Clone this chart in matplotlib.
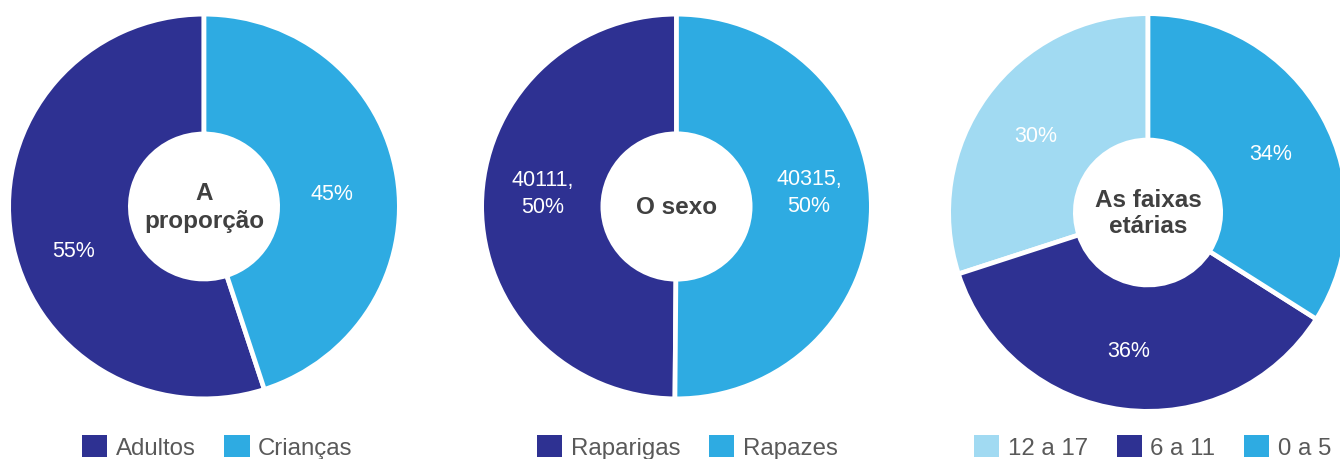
import matplotlib
matplotlib.use('Agg')
import matplotlib.pyplot as plt
from matplotlib.patches import Patch
from matplotlib.transforms import offset_copy

plt.rcParams['font.family'] = ['Liberation Sans', 'DejaVu Sans']

# data
prop_labels = ['Adultos', 'Crianças']
prop_values = [55, 45]

sexo_labels = ['Raparigas', 'Rapazes']
sexo_values = [40111, 40315]

idade_labels = ['12 a 17', '6 a 11', '0 a 5']
idade_values = [30, 36, 34]

titles = ['A\nproporção', 'O sexo', 'As faixas\netárias']

DARK = '#2E3192'
BLUE = '#2EABE2'
LIGHT = '#A1DAF2'

W, H = 1340, 460
fig = plt.figure(figsize=(W / 100, H / 100), dpi=100)

LW_PX = 4.7
LW = LW_PX * 72 / 100


def donut_axes(cx, cy, rx, ry):
    # cx, cy, rx, ry of the visible outer edge in pixels (y from top)
    ex = rx + LW_PX / 2
    ey = ry + LW_PX / 2
    ax = fig.add_axes([(cx - ex) / W, (H - cy - ey) / H, 2 * ex / W, 2 * ey / H])
    return ax, ex


def draw(ax, values, colors, hole_px, outer_px, fmt, title, title_ls, nudges):
    inner = (hole_px - LW_PX / 2) / outer_px
    wedges, _, autotexts = ax.pie(
        values, colors=colors, startangle=90, counterclock=True,
        radius=1, autopct=fmt, pctdistance=0.69,
        wedgeprops=dict(width=1 - inner, edgecolor='white', linewidth=LW),
        textprops=dict(color='white', fontsize=15.5))
    # small pixel nudges so labels sit where the original placed them
    for t, (dx, dy) in zip(autotexts, nudges):
        t.set_transform(offset_copy(ax.transData, fig=fig, x=dx, y=-dy, units='dots'))
    ax.set_aspect('auto')
    ax.set_xlim(-1, 1)
    ax.set_ylim(-1, 1)
    ax.text(0, 0, title, ha='center', va='center', fontsize=17.5,
            fontweight='bold', color='#404040', linespacing=title_ls)
    return autotexts


def legend(labels, colors, x, y):
    handles = [Patch(facecolor=c, edgecolor='none') for c in colors]
    fig.legend(handles, labels, loc='upper left',
               bbox_to_anchor=(x / W, 1 - y / H), frameon=False,
               borderpad=0, borderaxespad=0, ncol=len(labels),
               handlelength=1.05, handleheight=1.05, handletextpad=0.35,
               columnspacing=1.2, fontsize=17.3, labelcolor='#595959')


# donut 1
ax1, o1 = donut_axes(204, 207.5, 193, 190)
draw(ax1, prop_values, [DARK, BLUE], 76, o1,
     lambda p: f'{p:.0f}%', titles[0], 1.25, [(3, 23), (-5, 8)])
legend(prop_labels, [DARK, BLUE], 82, 436)

# donut 2
total2 = sum(sexo_values)
ax2, o2 = donut_axes(676.5, 207.5, 192.5, 190)
t2 = draw(ax2, sexo_values, [DARK, BLUE], 76, o2,
          lambda p: f'{round(p * total2 / 100)},\n{p:.0f}%', titles[1], 1.2,
          [(1, -13), (-2, -15)])
for t in t2:
    t.set_linespacing(1.35)
legend(sexo_labels, [DARK, BLUE], 537, 436)

# donut 3
ax3, o3 = donut_axes(1148, 213.5, 197, 196.5)
draw(ax3, idade_values, [LIGHT, DARK, BLUE], 75, o3,
     lambda p: f'{p:.0f}%', titles[2], 1.2, [(-1, 4), (-2, 2), (2, 7)])
legend(idade_labels, [LIGHT, DARK, BLUE], 974, 436)

fig.savefig('out.png', dpi=100)
